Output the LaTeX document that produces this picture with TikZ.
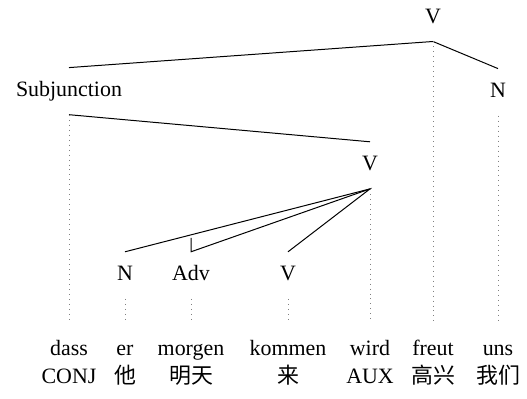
\documentclass[tikz,border=0pt]{standalone}
\usepackage{fontspec}
\setmainfont{Liberation Serif}
\newfontfamily\cjk{Noto Sans CJK SC}
\usepackage{tikz}

\begin{document}
\begin{tikzpicture}[
  x=0.5bp, y=-0.5bp,
  every node/.style={font=\fontsize{11}{13}\selectfont},
  cat/.style={inner sep=0pt, anchor=base, text height=14.25bp, text depth=8.9bp},
  word/.style={inner sep=0pt, anchor=base, text height=16.85bp, text depth=2bp},
  gloss/.style={inner sep=0pt, anchor=base},
  edge/.style={line width=0.5pt},
  proj/.style={dotted, gray, line width=0.5pt}
]
\useasboundingbox (0,0) rectangle (527,399);

% categories
\node[cat] (vtop) at (433,23.3) {V};
\node[cat] (subj) at (69,96.5) {Subjunction};
\node[cat] (nobj) at (498,97.5) {N};
\node[cat] (vaux) at (370,170.7) {V};
\node[cat] (nsub) at (125,280.7) {N};
\node[cat] (adv) at (191,280.7) {Adv};
\node[cat] (vinf) at (288,280.7) {V};

% words
\node[word] (dass) at (69,355.7) {dass};
\node[word] (er) at (125,355.7) {er};
\node[word] (morgen) at (191,355.7) {morgen};
\node[word] (kommen) at (288,355.7) {kommen};
\node[word] (wird) at (370,355.7) {wird};
\node[word] (freut) at (433,355.7) {freut};
\node[word] (uns) at (498,355.7) {uns};

% glosses
\node[gloss] (g-dass) at (69,383.3) {CONJ};
\node[gloss] (g-er) at (125,383.3) {\cjk 他};
\node[gloss] (g-morgen) at (191,383.3) {\cjk 明天};
\node[gloss] (g-kommen) at (288,383.3) {\cjk 来};
\node[gloss] (g-wird) at (370,383.3) {AUX};
\node[gloss] (g-freut) at (433,383.3) {\cjk 高兴};
\node[gloss] (g-uns) at (498,383.3) {\cjk 我们};

% dependencies
\draw[edge] (subj.north) -- (vtop.south) -- (nobj.north);
\draw[edge] (subj.south) -- (vaux.north);
\draw[edge] (nsub.north) -- (vaux.south) -- (vinf.north);
\draw[edge] (vaux.south) -- (adv.north) -- ++(0,-14);

% projection lines
\draw[proj] (subj.south) -- (dass.north);
\draw[proj] (nsub.south) -- (er.north);
\draw[proj] (adv.south) -- (morgen.north);
\draw[proj] (vinf.south) -- (kommen.north);
\draw[proj] (vaux.south) -- (wird.north);
\draw[proj] (vtop.south) -- (freut.north);
\draw[proj] (nobj.south) -- (uns.north);

\end{tikzpicture}
\end{document}
